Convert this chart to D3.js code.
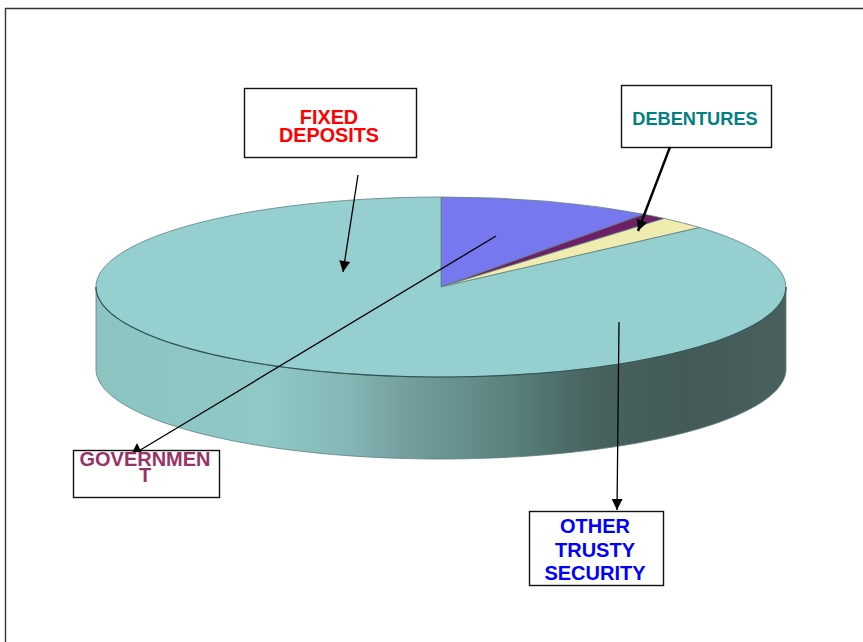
<!DOCTYPE html>
<html><head><meta charset="utf-8">
<script src="https://cdn.jsdelivr.net/npm/d3@7/dist/d3.min.js"></script>
<style>html,body{margin:0;padding:0;background:#fff}svg{display:block}</style>
</head><body><div id="c"></div>
<script>
const categories = ["FIXED DEPOSITS","DEBENTURES","GOVERNMENT","OTHER TRUSTY SECURITY"];
const sliceNames = ["GOVERNMENT","DEBENTURES","FIXED DEPOSITS","OTHER TRUSTY SECURITY"];
const sliceValues = [10.0, 1.2, 2.3, 86.5];
const sliceColors = ["#7777ee","#6f1f66","#f0ecb0","#95cfcf"];
const gradStops = [[0,"#8cc4c2"],[0.25,"#8fc8c6"],[0.36,"#84b8b6"],[0.45,"#739f9d"],[0.6,"#5a827f"],[0.72,"#47625f"],[0.85,"#435a58"],[1,"#4a605e"]];

const W=863,H=642, cx=441, cy=287, rx=345, ry=90, depth=82;
const svg=d3.select("#c").append("svg").attr("width",W).attr("height",H);
const defs=svg.append("defs");
const g=defs.append("linearGradient").attr("id","side").attr("gradientUnits","userSpaceOnUse")
  .attr("x1",cx-rx).attr("x2",cx+rx).attr("y1",0).attr("y2",0);
gradStops.forEach(s=>g.append("stop").attr("offset",s[0]).attr("stop-color",s[1]));
const mk=(id,w,h,refX,orient)=>defs.append("marker").attr("id",id).attr("viewBox","0 0 10 10").attr("refX",refX).attr("refY",5)
  .attr("markerUnits","userSpaceOnUse").attr("markerWidth",w).attr("markerHeight",h).attr("orient",orient)
  .append("path").attr("d","M0,0L10,5L0,10Z").attr("fill","#000");
mk("arr",12,11,10,"auto");
mk("arrUp",9,13,0,270);

// page frame
svg.append("path").attr("d",`M5.5,${H}V8.5H${W}`).attr("fill","none").attr("stroke","#333").attr("stroke-width",1.4);

// extruded side
const a=d3.scaleLinear().domain([0,1]).range([Math.PI/2,3*Math.PI/2]);
const px=t=>cx+rx*Math.sin(t), py=t=>cy-ry*Math.cos(t);
const front=d3.range(0,1.0001,0.01);
const side=d3.area().x(u=>px(a(u))).y0(u=>py(a(u))).y1(u=>py(a(u))+depth);
svg.append("path").attr("d",side(front)).attr("fill","url(#side)").attr("stroke","#5d7f7d").attr("stroke-width",.8);

// top face
const pie=d3.pie().sort(null).value(d=>d)(sliceValues);
const arc=d3.arc().innerRadius(0).outerRadius(1);
const face=svg.append("g").attr("transform",`translate(${cx},${cy}) scale(${rx},${ry})`);
face.selectAll("path").data(pie).join("path").attr("d",arc)
  .attr("fill",(d,i)=>sliceColors[i]).attr("stroke","#5f8082").attr("stroke-width",.8)
  .attr("vector-effect","non-scaling-stroke");
// darker front rim of the top face
const rim=d3.line().x(u=>px(a(u))).y(u=>py(a(u)));
svg.append("path").attr("d",rim(front)).attr("fill","none").attr("stroke","#2f5553").attr("stroke-width",1.1);

// leader lines
const leaders=[
 {x1:358,y1:175,x2:343,y2:272,w:1.3,m:"arr"},
 {x1:670,y1:147,x2:638,y2:231,w:2.4,m:"arr"},
 {x1:496,y1:236,x2:137,y2:452,w:1.3,m:"arrUp"},
 {x1:619,y1:322,x2:617,y2:510,w:1.3,m:"arr"}];

// labels
const boxes=[
 {name:categories[0],lines:["FIXED","DEPOSITS"],x:244.5,y:88.5,w:172,h:69,c:"#ff0000",fs:19.8,tx:329,ty:[124,142]},
 {name:categories[1],lines:["DEBENTURES"],x:621.5,y:85.5,w:150,h:62,c:"#008080",fs:18.2,tx:695,ty:[125]},
 {name:categories[2],lines:["GOVERNMEN","T"],x:73.5,y:450.5,w:146,h:47,c:"#993366",fs:20,tx:145,ty:[466,482]},
 {name:categories[3],lines:["OTHER","TRUSTY","SECURITY"],x:529.5,y:511.5,w:134,h:74,c:"#0000ff",fs:20,tx:595,ty:[533,557,580]}];
const bg=svg.selectAll("g.box").data(boxes).join("g").attr("class","box");
bg.append("rect").attr("x",d=>d.x).attr("y",d=>d.y).attr("width",d=>d.w).attr("height",d=>d.h)
  .attr("fill","#fff").attr("stroke","#111").attr("stroke-width",1.4);
bg.each(function(d){
  d3.select(this).selectAll("text").data(d.lines).join("text")
   .attr("x",d.tx).attr("y",(l,i)=>d.ty[i]).attr("text-anchor","middle")
   .attr("font-family","'Liberation Sans',Arial,sans-serif").attr("font-weight","bold")
   .attr("font-size",d.fs).attr("fill",d.c).text(l=>l);
});
svg.selectAll("line.lead").data(leaders).join("line").attr("class","lead")
  .attr("x1",d=>d.x1).attr("y1",d=>d.y1).attr("x2",d=>d.x2).attr("y2",d=>d.y2)
  .attr("stroke","#000").attr("stroke-width",d=>d.w).attr("marker-end",d=>`url(#${d.m})`);
</script></body></html>
